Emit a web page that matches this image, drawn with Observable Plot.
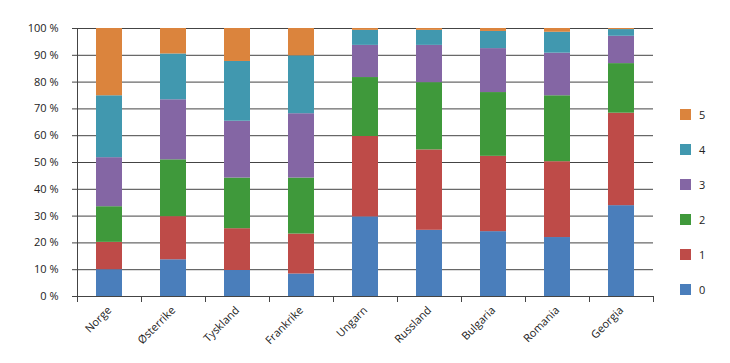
<!DOCTYPE html>
<html><head><meta charset="utf-8">
<script src="https://cdn.jsdelivr.net/npm/d3@7"></script>
<script src="https://cdn.jsdelivr.net/npm/@observablehq/plot@0.6"></script>
<style>
body{margin:0;background:#fff;}
#wrap{position:relative;width:730px;height:363px;font-family:"Open Sans",sans-serif;}
.leg{position:absolute;height:11px;font-size:11px;color:#222;line-height:11px;}
.leg span.sw{position:absolute;left:0;top:0;width:11px;height:11px;}
.leg span.tx{position:absolute;left:19px;top:0;white-space:nowrap;}
</style></head><body><div id="wrap"></div>
<script>
const categories = ["Norge","Østerrike","Tyskland","Frankrike","Ungarn","Russland","Bulgaria","Romania","Georgia"];
const levels = ["0","1","2","3","4","5"];
const level0 = [10.0, 13.7, 9.7, 8.4, 29.7, 24.7, 24.2, 22.0, 33.9];
const level1 = [10.2, 16.1, 15.6, 14.9, 30.0, 30.0, 28.1, 28.3, 34.5];
const level2 = [13.3, 21.2, 18.9, 20.9, 22.0, 25.1, 23.8, 24.6, 18.5];
const level3 = [18.3, 22.4, 21.2, 24.0, 12.0, 13.9, 16.4, 15.9, 10.2];
const level4 = [23.1, 17.1, 22.3, 21.6, 5.6, 5.6, 6.4, 7.8, 2.5];
const level5 = [25.1, 9.5, 12.3, 10.2, 0.7, 0.7, 1.1, 1.4, 0.4];
const yTicks = [0,10,20,30,40,50,60,70,80,90,100];
const colors = ["#4a7ebb","#be4b48","#3f993b","#8466a4","#4198af","#db843d"];

const series = [level0, level1, level2, level3, level4, level5];
const data = [];
levels.forEach((lv, j) => categories.forEach((c, i) => data.push({country: c, level: lv, value: series[j][i]})));

const W = 730, H = 363, ml = 77, mr = 77, mt = 28, mb = 67;
const half = (W - ml - mr) / categories.length / 2;
const plotH = H - mt - mb;

const plot = Plot.plot({
  width: W, height: H, marginLeft: ml, marginRight: mr, marginTop: mt, marginBottom: mb,
  style: {fontFamily: "'Open Sans', sans-serif", fontSize: "11px", color: "#222", background: "#fff"},
  x: {domain: categories, paddingInner: 0.6, paddingOuter: 0.3, axis: null},
  y: {domain: [0, 100], axis: null},
  color: {domain: levels, range: colors},
  marks: [
    Plot.gridY(yTicks.slice(1), {stroke: "#444", strokeOpacity: 1}),
    Plot.barY(data, {x: "country", y: "value", fill: "level"}),
    Plot.ruleY([0], {stroke: "#444"}),
    Plot.axisY(yTicks, {tickFormat: d => d + " %", tickSize: 5, tickPadding: 14, stroke: "#444", label: null}),
    Plot.ruleX([categories[0]], {x: d => d, dx: -half, stroke: "#444", insetBottom: -6}),
    Plot.ruleX(categories.slice(1), {x: d => d, dx: -half, stroke: "#444", insetTop: plotH, insetBottom: -6}),
    Plot.ruleX([categories[categories.length - 1]], {x: d => d, dx: half, stroke: "#444", insetTop: plotH, insetBottom: -6}),
    Plot.axisX({tickRotate: -45, tickSize: 0, tickPadding: 12, label: null})
  ]
});
const wrap = document.getElementById("wrap");
wrap.appendChild(plot);

const color = plot.scale("color");
const legCenters = {"5": 114, "4": 149, "3": 184, "2": 219, "1": 254, "0": 289};
levels.forEach(lv => {
  const d = document.createElement("div");
  d.className = "leg";
  d.style.left = "680px";
  d.style.top = (legCenters[lv] - 5.5) + "px";
  d.innerHTML = `<span class="sw" style="background:${color.apply(lv)}"></span><span class="tx">${lv}</span>`;
  wrap.appendChild(d);
});
</script></body></html>
